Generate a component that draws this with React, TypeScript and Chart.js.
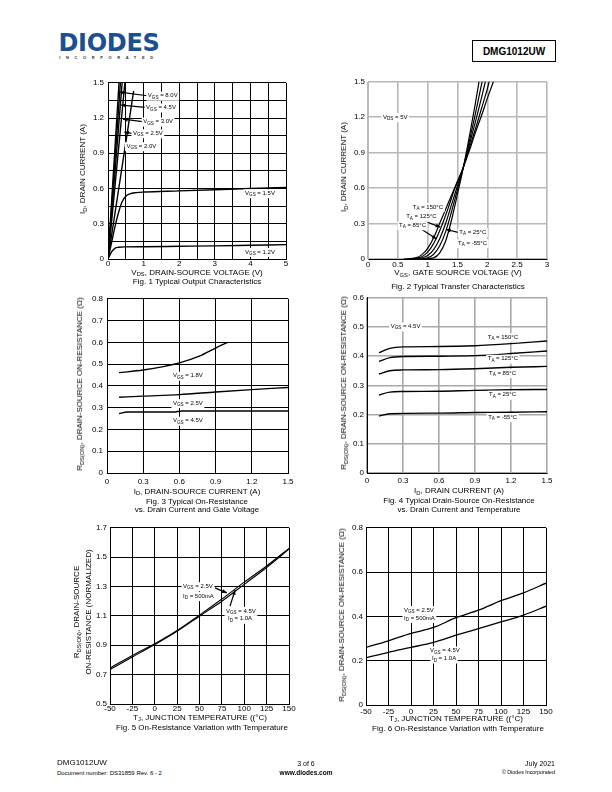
import React, { useEffect, useRef } from 'react';
import { Chart, registerables } from 'chart.js';

Chart.register(...registerables);

const FONT = '"Liberation Sans", Arial, Helvetica, sans-serif';
type Pt = [number, number];

// ================= Fig. 1 Typical Output Characteristics =================
const fig1XTicks = [0, 0.5, 1, 1.5, 2, 2.5, 3, 3.5, 4, 4.5, 5];
const fig1XLabels = ['0', '', '1', '', '2', '', '3', '', '4', '', '5'];
const fig1YTicks = [0, 0.15, 0.3, 0.45, 0.6, 0.75, 0.9, 1.05, 1.2, 1.35, 1.5];
const fig1YLabels = ['0', '', '0.3', '', '0.6', '', '0.9', '', '1.2', '', '1.5'];
const fig1Vgs80: Pt[] = [[0, 0], [0.32, 1.55]];
const fig1Vgs45: Pt[] = [[0, 0], [0.36, 1.55]];
const fig1Vgs30: Pt[] = [[0, 0], [0.41, 1.55]];
const fig1Vgs25: Pt[] = [[0, 0], [0.49, 1.55]];
const fig1Vgs20: Pt[] = [[0, 0], [0.72, 1.43]];
const fig1Vgs15: Pt[] = [[0, 0], [0.1, 0.14], [0.2, 0.28], [0.3, 0.4], [0.4, 0.49], [0.5, 0.535], [0.6, 0.553], [0.8, 0.565], [1, 0.57], [2, 0.58], [3, 0.59], [4, 0.6], [5, 0.61]];
const fig1Vgs12: Pt[] = [[0, 0], [0.1, 0.06], [0.2, 0.093], [0.3, 0.1], [0.5, 0.103], [1, 0.104], [2, 0.108], [3, 0.112], [4, 0.117], [5, 0.122]];

// ================= Fig. 2 Typical Transfer Characteristics =================
const fig2XTicks = [0, 0.5, 1, 1.5, 2, 2.5, 3];
const fig2XLabels = ['0', '0.5', '1', '1.5', '2', '2.5', '3'];
const fig2YTicks = [0, 0.3, 0.6, 0.9, 1.2, 1.5];
const fig2YLabels = ['0', '0.3', '0.6', '0.9', '1.2', '1.5'];
const fig2T150: Pt[] = [[0.6, 0], [0.8, 0.01], [0.9, 0.035], [1.0, 0.09], [1.1, 0.18], [1.2, 0.3], [1.3, 0.42], [1.4, 0.54], [1.5, 0.66], [1.6, 0.78], [1.7, 0.92], [1.8, 1.07], [1.9, 1.21], [2.0, 1.36], [2.1, 1.5], [2.13, 1.55]];
const fig2T125: Pt[] = [[0.65, 0], [0.85, 0.01], [0.95, 0.035], [1.05, 0.09], [1.15, 0.18], [1.25, 0.3], [1.35, 0.44], [1.45, 0.59], [1.55, 0.71], [1.6, 0.78], [1.7, 0.94], [1.8, 1.1], [1.9, 1.27], [2.0, 1.44], [2.04, 1.52]];
const fig2T85: Pt[] = [[0.75, 0], [0.9, 0.01], [1.0, 0.03], [1.1, 0.08], [1.2, 0.17], [1.3, 0.3], [1.4, 0.46], [1.5, 0.62], [1.6, 0.78], [1.7, 0.97], [1.8, 1.16], [1.9, 1.36], [1.98, 1.53]];
const fig2T25: Pt[] = [[0.85, 0], [1.0, 0.01], [1.1, 0.04], [1.2, 0.11], [1.3, 0.23], [1.4, 0.4], [1.5, 0.59], [1.6, 0.78], [1.7, 1.0], [1.8, 1.23], [1.92, 1.52]];
const fig2Tm55: Pt[] = [[0.95, 0], [1.1, 0.01], [1.2, 0.05], [1.3, 0.15], [1.4, 0.33], [1.5, 0.55], [1.6, 0.78], [1.7, 1.04], [1.8, 1.32], [1.87, 1.53]];

// ================= Fig. 3 On-Resistance vs Drain Current & Gate Voltage =================
const fig3XTicks = [0, 0.3, 0.6, 0.9, 1.2, 1.5];
const fig3XLabels = ['0', '0.3', '0.6', '0.9', '1.2', '1.5'];
const fig3YTicks = [0, 0.1, 0.2, 0.3, 0.4, 0.5, 0.6, 0.7, 0.8];
const fig3YLabels = ['0', '0.1', '0.2', '0.3', '0.4', '0.5', '0.6', '0.7', '0.8'];
const fig3Vgs18: Pt[] = [[0.1, 0.461], [0.3, 0.473], [0.6, 0.506], [0.77, 0.538], [0.9, 0.574], [1.0, 0.6]];
const fig3Vgs25: Pt[] = [[0.1, 0.348], [0.3, 0.353], [0.6, 0.36], [0.9, 0.372], [1.2, 0.383], [1.5, 0.393]];
const fig3Vgs45: Pt[] = [[0.1, 0.273], [0.17, 0.28], [0.55, 0.28], [0.62, 0.285], [1.5, 0.285]];

// ================= Fig. 4 On-Resistance vs Drain Current & Temperature =================
const fig4XTicks = [0, 0.3, 0.6, 0.9, 1.2, 1.5];
const fig4XLabels = ['0', '0.3', '0.6', '0.9', '1.2', '1.5'];
const fig4YTicks = [0, 0.1, 0.2, 0.3, 0.4, 0.5, 0.6];
const fig4YLabels = ['0', '0.1', '0.2', '0.3', '0.4', '0.5', '0.6'];
const fig4T150: Pt[] = [[0.1, 0.412], [0.19, 0.427], [0.3, 0.432], [0.6, 0.433], [0.9, 0.436], [1.2, 0.443], [1.5, 0.452]];
const fig4T125: Pt[] = [[0.1, 0.382], [0.19, 0.395], [0.3, 0.399], [0.6, 0.4], [0.9, 0.402], [1.2, 0.409], [1.5, 0.418]];
const fig4T85: Pt[] = [[0.1, 0.339], [0.19, 0.35], [0.3, 0.353], [0.6, 0.354], [0.9, 0.357], [1.2, 0.362], [1.5, 0.365]];
const fig4T25: Pt[] = [[0.1, 0.267], [0.19, 0.277], [0.3, 0.279], [0.6, 0.28], [0.9, 0.283], [1.2, 0.285], [1.5, 0.286]];
const fig4Tm55: Pt[] = [[0.1, 0.195], [0.19, 0.203], [0.6, 0.205], [0.9, 0.207], [1.2, 0.208], [1.5, 0.21]];

// ================= Fig. 5 Normalized On-Resistance vs Temperature =================
const fig5XTicks = [-50, -25, 0, 25, 50, 75, 100, 125, 150];
const fig5XLabels = ['-50', '-25', '0', '25', '50', '75', '100', '125', '150'];
const fig5YTicks = [0.5, 0.7, 0.9, 1.1, 1.3, 1.5, 1.7];
const fig5YLabels = ['0.5', '0.7', '0.9', '1.1', '1.3', '1.5', '1.7'];
const fig5Vgs25: Pt[] = [[-50, 0.745], [-25, 0.83], [0, 0.91], [25, 1.0], [50, 1.105], [75, 1.215], [100, 1.33], [125, 1.44], [150, 1.56]];
const fig5Vgs45: Pt[] = [[-50, 0.735], [-25, 0.82], [0, 0.905], [25, 0.995], [50, 1.098], [75, 1.2], [100, 1.315], [125, 1.43], [150, 1.555]];

// ================= Fig. 6 On-Resistance vs Temperature =================
const fig6XTicks = [-50, -25, 0, 25, 50, 75, 100, 125, 150];
const fig6XLabels = ['-50', '-25', '0', '25', '50', '75', '100', '125', '150'];
const fig6YTicks = [0, 0.2, 0.4, 0.6, 0.8];
const fig6YLabels = ['0', '0.2', '0.4', '0.6', '0.8'];
const fig6Vgs25: Pt[] = [[-50, 0.26], [-25, 0.29], [0, 0.323], [25, 0.35], [50, 0.394], [75, 0.428], [100, 0.471], [125, 0.506], [150, 0.55]];
const fig6Vgs45: Pt[] = [[-50, 0.213], [-25, 0.238], [0, 0.26], [25, 0.283], [50, 0.315], [75, 0.345], [100, 0.375], [125, 0.406], [150, 0.446]];

// ================= In-plot annotations (data coordinates) =================
interface Ann { x: number; y: number; text: string }
interface Arrow { x1: number; y1: number; x2: number; y2: number }

const fig1Notes: Ann[] = [
  { x: 1.12, y: 1.39, text: 'V_{GS} = 8.0V' },
  { x: 1.07, y: 1.29, text: 'V_{GS} = 4.5V' },
  { x: 0.99, y: 1.17, text: 'V_{GS} = 3.0V' },
  { x: 0.7, y: 1.07, text: 'V_{GS} = 2.5V' },
  { x: 0.52, y: 0.96, text: 'V_{GS} = 2.0V' },
  { x: 3.85, y: 0.56, text: 'V_{GS} = 1.5V' },
  { x: 3.85, y: 0.06, text: 'V_{GS} = 1.2V' },
];
const fig1Arrows: Arrow[] = [
  { x1: 1.1, y1: 1.39, x2: 0.33, y2: 1.42 },
  { x1: 1.05, y1: 1.29, x2: 0.37, y2: 1.31 },
  { x1: 0.97, y1: 1.17, x2: 0.42, y2: 1.19 },
  { x1: 0.68, y1: 1.07, x2: 0.46, y2: 1.08 },
];
const fig2Notes: Ann[] = [
  { x: 0.25, y: 1.2, text: 'V_{DS} = 5V' },
  { x: 0.75, y: 0.44, text: 'T_{A} = 150°C' },
  { x: 0.64, y: 0.36, text: 'T_{A} = 125°C' },
  { x: 0.52, y: 0.285, text: 'T_{A} = 85°C' },
  { x: 1.53, y: 0.226, text: 'T_{A} = 25°C' },
  { x: 1.51, y: 0.134, text: 'T_{A} = -55°C' },
];
const fig2Arrows: Arrow[] = [
  { x1: 0.9, y1: 0.33, x2: 1.21, y2: 0.27 },
  { x1: 0.87, y1: 0.26, x2: 1.15, y2: 0.17 },
  { x1: 1.51, y1: 0.226, x2: 1.31, y2: 0.25 },
];
const fig3Notes: Ann[] = [
  { x: 0.547, y: 0.447, text: 'V_{GS} = 1.8V' },
  { x: 0.547, y: 0.321, text: 'V_{GS} = 2.5V' },
  { x: 0.547, y: 0.24, text: 'V_{GS} = 4.5V' },
];
const fig4Notes: Ann[] = [
  { x: 0.197, y: 0.502, text: 'V_{GS} = 4.5V' },
  { x: 1.006, y: 0.465, text: 'T_{A} = 150°C' },
  { x: 1.006, y: 0.391, text: 'T_{A} = 125°C' },
  { x: 1.017, y: 0.342, text: 'T_{A} = 85°C' },
  { x: 1.017, y: 0.268, text: 'T_{A} = 25°C' },
  { x: 1.01, y: 0.191, text: 'T_{A} = -55°C' },
];
const fig5Notes: Ann[] = [
  { x: 31.6, y: 1.302, text: 'V_{GS} = 2.5V' },
  { x: 31.6, y: 1.235, text: 'I_{D} = 500mA' },
  { x: 79.6, y: 1.134, text: 'V_{GS} = 4.5V' },
  { x: 81.8, y: 1.08, text: 'I_{D} = 1.0A' },
];
const fig5Arrows: Arrow[] = [
  { x1: 67.3, y1: 1.291, x2: 80.4, y2: 1.257 },
  { x1: 84.1, y1: 1.167, x2: 89.7, y2: 1.275 },
];
const fig6Notes: Ann[] = [
  { x: -7.8, y: 0.429, text: 'V_{GS} = 2.5V' },
  { x: -7.8, y: 0.393, text: 'I_{D} = 500mA' },
  { x: 21.1, y: 0.246, text: 'V_{GS} = 4.5V' },
  { x: 23.3, y: 0.21, text: 'I_{D} = 1.0A' },
];

// ================= helpers =================
function parseRich(s: string) {
  const parts: { t: string; sub: boolean }[] = [];
  const re = /_\{([^}]*)\}/g;
  let last = 0;
  let m: RegExpExecArray | null;
  while ((m = re.exec(s))) {
    if (m.index > last) parts.push({ t: s.slice(last, m.index), sub: false });
    parts.push({ t: m[1], sub: true });
    last = re.lastIndex;
  }
  if (last < s.length) parts.push({ t: s.slice(last), sub: false });
  return parts;
}

interface Style { grid: string; gridWidth: number; xBorder: string; yBorder: string; line: number; xPad: number; yPad: number }
interface Spec {
  xMin: number; xMax: number; yMin: number; yMax: number;
  xTicks: number[]; xLabels: string[]; yTicks: number[]; yLabels: string[];
  series: Pt[][]; notes: Ann[]; arrows: Arrow[]; style: Style;
}

function annotPlugin(spec: Spec) {
  return {
    id: 'annot',
    afterDatasetsDraw(chart: any) {
      const ctx: CanvasRenderingContext2D = chart.ctx;
      const xs = chart.scales.x;
      const ys = chart.scales.y;
      ctx.save();
      ctx.strokeStyle = '#000';
      ctx.fillStyle = '#000';
      ctx.lineWidth = 1.2;
      for (const a of spec.arrows) {
        const x1 = xs.getPixelForValue(a.x1), y1 = ys.getPixelForValue(a.y1);
        const x2 = xs.getPixelForValue(a.x2), y2 = ys.getPixelForValue(a.y2);
        ctx.beginPath();
        ctx.moveTo(x1, y1);
        ctx.lineTo(x2, y2);
        ctx.stroke();
        const ang = Math.atan2(y2 - y1, x2 - x1);
        const L = 4.5, Wd = 2;
        ctx.beginPath();
        ctx.moveTo(x2, y2);
        ctx.lineTo(x2 - L * Math.cos(ang) + Wd * Math.sin(ang), y2 - L * Math.sin(ang) - Wd * Math.cos(ang));
        ctx.lineTo(x2 - L * Math.cos(ang) - Wd * Math.sin(ang), y2 - L * Math.sin(ang) + Wd * Math.cos(ang));
        ctx.closePath();
        ctx.fill();
      }
      const size = 6;
      const sub = 4.6;
      ctx.textBaseline = 'middle';
      ctx.textAlign = 'left';
      for (const n of spec.notes) {
        const px = xs.getPixelForValue(n.x);
        const py = ys.getPixelForValue(n.y);
        const parts = parseRich(n.text);
        let w = 0;
        const widths = parts.map((p) => {
          ctx.font = `${p.sub ? sub : size}px ${FONT}`;
          const mw = ctx.measureText(p.t).width;
          w += mw;
          return mw;
        });
        ctx.fillStyle = '#fff';
        ctx.fillRect(px - 1.5, py - 4, w + 3, 9);
        ctx.fillStyle = '#000';
        let cx = px;
        parts.forEach((p, i) => {
          ctx.font = `${p.sub ? sub : size}px ${FONT}`;
          ctx.fillText(p.t, cx, p.sub ? py + 1.8 : py);
          cx += widths[i];
        });
      }
      ctx.restore();
    },
  };
}

function Plot({ spec, rect }: { spec: Spec; rect: [number, number, number, number] }) {
  const ref = useRef<HTMLCanvasElement>(null);
  const [L, T, W, H] = rect;
  const PL = 40, PT = 6, PR = 12, PB = 22;
  useEffect(() => {
    const s = spec.style;
    const font = { family: FONT, size: 8 };
    const chart = new Chart(ref.current as HTMLCanvasElement, {
      type: 'scatter',
      data: {
        datasets: spec.series.map((d) => ({
          data: d.map(([x, y]) => ({ x, y })),
          showLine: true,
          borderColor: '#000',
          backgroundColor: '#000',
          borderWidth: s.line,
          pointRadius: 0,
          pointHoverRadius: 0,
          cubicInterpolationMode: 'monotone' as const,
          fill: false,
        })),
      },
      options: {
        responsive: false,
        animation: false,
        devicePixelRatio: 1,
        events: [],
        layout: { padding: { left: 0, top: PT, right: PR, bottom: 0 }, autoPadding: false },
        plugins: { legend: { display: false }, tooltip: { enabled: false } },
        scales: {
          x: {
            type: 'linear',
            min: spec.xMin,
            max: spec.xMax,
            afterFit: (sc: any) => { sc.height = PB; },
            afterBuildTicks: (sc: any) => { sc.ticks = spec.xTicks.map((v) => ({ value: v })); },
            ticks: { autoSkip: false, maxRotation: 0, padding: s.xPad, color: '#000', font, callback: (_v: any, i: number) => spec.xLabels[i] },
            grid: { color: s.grid, lineWidth: s.gridWidth, drawTicks: false },
            border: { color: s.xBorder, width: 1 },
          },
          y: {
            type: 'linear',
            min: spec.yMin,
            max: spec.yMax,
            afterFit: (sc: any) => { sc.width = PL; },
            afterBuildTicks: (sc: any) => { sc.ticks = spec.yTicks.map((v) => ({ value: v })); },
            ticks: { autoSkip: false, padding: s.yPad, color: '#000', font, callback: (_v: any, i: number) => spec.yLabels[i] },
            grid: { color: s.grid, lineWidth: s.gridWidth, drawTicks: false },
            border: { color: s.yBorder, width: 1 },
          },
        },
      } as any,
      plugins: [annotPlugin(spec)],
    });
    return () => chart.destroy();
  }, [spec]);
  return (
    <canvas
      ref={ref}
      width={W + PL + PR}
      height={H + PT + PB}
      style={{ position: 'absolute', left: L - PL, top: T - PT, width: W + PL + PR, height: H + PT + PB }}
    />
  );
}

function Rich({ s }: { s: string }) {
  return (
    <>
      {parseRich(s).map((p, i) =>
        p.sub ? (
          <span key={i} style={{ fontSize: '0.72em', position: 'relative', top: '0.3em' }}>{p.t}</span>
        ) : (
          <span key={i}>{p.t}</span>
        )
      )}
    </>
  );
}

function Txt({ x, y, s, size = 8, bold = false, rotate = false, anchor = 'center', color = '#000', spacing = 0, family }:
  { x: number; y: number; s: string; size?: number; bold?: boolean; rotate?: boolean; anchor?: 'left' | 'center' | 'right'; color?: string; spacing?: number; family?: string }) {
  const tx = anchor === 'center' ? '-50%' : anchor === 'right' ? '-100%' : '0';
  return (
    <div
      style={{
        position: 'absolute', left: x, top: y, fontSize: size, fontWeight: bold ? 700 : 400, color,
        lineHeight: 1, whiteSpace: 'nowrap', letterSpacing: spacing, fontFamily: family || FONT,
        transform: `translate(${tx},-50%)${rotate ? ' rotate(-90deg)' : ''}`,
      }}
    >
      <Rich s={s} />
    </div>
  );
}

const blackStyle = (xPad: number, yPad: number, line: number): Style => ({ grid: '#000', gridWidth: 1, xBorder: '#000', yBorder: '#000', line, xPad, yPad });

const spec1: Spec = {
  xMin: 0, xMax: 5, yMin: 0, yMax: 1.5, xTicks: fig1XTicks, xLabels: fig1XLabels, yTicks: fig1YTicks, yLabels: fig1YLabels,
  series: [fig1Vgs80, fig1Vgs45, fig1Vgs30, fig1Vgs25, fig1Vgs20, fig1Vgs15, fig1Vgs12], notes: fig1Notes, arrows: fig1Arrows,
  style: blackStyle(0, 4, 1.4),
};
const spec2: Spec = {
  xMin: 0, xMax: 3, yMin: 0, yMax: 1.5, xTicks: fig2XTicks, xLabels: fig2XLabels, yTicks: fig2YTicks, yLabels: fig2YLabels,
  series: [fig2T150, fig2T125, fig2T85, fig2T25, fig2Tm55], notes: fig2Notes, arrows: fig2Arrows,
  style: { grid: '#b8b8b8', gridWidth: 1.6, xBorder: '#000', yBorder: '#b8b8b8', line: 1.2, xPad: 1, yPad: 3 },
};
const spec3: Spec = {
  xMin: 0, xMax: 1.5, yMin: 0, yMax: 0.8, xTicks: fig3XTicks, xLabels: fig3XLabels, yTicks: fig3YTicks, yLabels: fig3YLabels,
  series: [fig3Vgs18, fig3Vgs25, fig3Vgs45], notes: fig3Notes, arrows: [],
  style: blackStyle(4, 4, 1.4),
};
const spec4: Spec = {
  xMin: 0, xMax: 1.5, yMin: 0, yMax: 0.6, xTicks: fig4XTicks, xLabels: fig4XLabels, yTicks: fig4YTicks, yLabels: fig4YLabels,
  series: [fig4T150, fig4T125, fig4T85, fig4T25, fig4Tm55], notes: fig4Notes, arrows: [],
  style: { grid: '#a8a8a8', gridWidth: 1.6, xBorder: '#000', yBorder: '#000', line: 1.4, xPad: 3, yPad: 3 },
};
const spec5: Spec = {
  xMin: -50, xMax: 150, yMin: 0.5, yMax: 1.7, xTicks: fig5XTicks, xLabels: fig5XLabels, yTicks: fig5YTicks, yLabels: fig5YLabels,
  series: [fig5Vgs25, fig5Vgs45], notes: fig5Notes, arrows: fig5Arrows,
  style: blackStyle(0, 3, 1.1),
};
const spec6: Spec = {
  xMin: -50, xMax: 150, yMin: 0, yMax: 0.8, xTicks: fig6XTicks, xLabels: fig6XLabels, yTicks: fig6YTicks, yLabels: fig6YLabels,
  series: [fig6Vgs25, fig6Vgs45], notes: fig6Notes, arrows: [],
  style: blackStyle(2, 3, 1.3),
};

const RDS = 'R_{DS(ON)}, DRAIN-SOURCE ON-RESISTANCE (Ω)';

export default function App() {
  return (
    <div style={{ position: 'absolute', left: 0, top: 0, width: 612, height: 792, background: '#fff', fontFamily: FONT, color: '#000', overflow: 'hidden' }}>
      {/* header */}
      <Txt x={109} y={43} s="DIODES" size={24} bold color="#1d4f8f" spacing={-0.3} family='"DejaVu Sans", sans-serif' />
      <Txt x={109} y={58} s="INCORPORATED" size={4} bold color="#333" spacing={5.6} />
      <div style={{ position: 'absolute', left: 472, top: 40, width: 84, height: 22, boxSizing: 'border-box', border: '1px solid #000', display: 'flex', alignItems: 'center', justifyContent: 'center', fontWeight: 700, fontSize: 10 }}>DMG1012UW</div>

      {/* Fig 1 */}
      <Plot spec={spec1} rect={[108, 80, 178, 179]} />
      <Txt x={197} y={272.5} s="V_{DS}, DRAIN-SOURCE VOLTAGE (V)" />
      <Txt x={197} y={282} s="Fig. 1 Typical Output Characteristics" />
      <Txt x={83} y={169} s="I_{D}, DRAIN CURRENT (A)" rotate />

      {/* Fig 2 */}
      <Plot spec={spec2} rect={[368, 80, 179, 179]} />
      <Txt x={458} y={273} s="V_{GS}, GATE SOURCE VOLTAGE (V)" />
      <Txt x={458} y={287} s="Fig. 2 Typical Transfer Characteristics" />
      <Txt x={344} y={167} s="I_{D}, DRAIN CURRENT (A)" rotate />

      {/* Fig 3 */}
      <Plot spec={spec3} rect={[107, 296, 181, 177]} />
      <Txt x={197} y={491.5} s="I_{D}, DRAIN-SOURCE CURRENT (A)" />
      <Txt x={197} y={501.5} s="Fig. 3 Typical On-Resistance" />
      <Txt x={197} y={510} s="vs. Drain Current and Gate Voltage" />
      <Txt x={80} y={384} s={RDS} rotate />

      {/* Fig 4 */}
      <Plot spec={spec4} rect={[367, 296, 180, 177]} />
      <Txt x={459} y={491} s="I_{D}, DRAIN CURRENT (A)" />
      <Txt x={459} y={501} s="Fig. 4  Typical Drain-Source On-Resistance" />
      <Txt x={459} y={510} s="vs. Drain Current and Temperature" />
      <Txt x={344} y={383} s={RDS} rotate />

      {/* Fig 5 */}
      <Plot spec={spec5} rect={[110, 526, 179, 178]} />
      <Txt x={200} y={717.5} s="T_{J}, JUNCTION TEMPERATURE ((°C)" />
      <Txt x={202} y={728} s="Fig. 5 On-Resistance Variation with Temperature" />
      <Txt x={77} y={612} s="R_{DS(ON)}, DRAIN-SOURCE" rotate />
      <Txt x={88.5} y={612} s="ON-RESISTANCE (NORMALIZED)" rotate />

      {/* Fig 6 */}
      <Plot spec={spec6} rect={[366, 526, 180, 179]} />
      <Txt x={456} y={718.5} s="T_{J}, JUNCTION TEMPERATURE ((°C)" />
      <Txt x={458} y={729} s="Fig. 6 On-Resistance Variation with Temperature" />
      <Txt x={342} y={615} s={RDS} rotate />

      {/* footer */}
      <Txt x={57} y={763} s="DMG1012UW" size={8} anchor="left" />
      <Txt x={57} y={772.5} s="Document number: DS31859 Rev. 6 - 2" size={6} anchor="left" />
      <Txt x={306} y={763} s="3 of 6" size={7} />
      <Txt x={306} y={772.5} s="www.diodes.com" size={6.5} bold />
      <Txt x={555} y={763} s="July 2021" size={7} anchor="right" />
      <Txt x={555} y={772.5} s="© Diodes Incorporated" size={5.3} anchor="right" />
    </div>
  );
}
